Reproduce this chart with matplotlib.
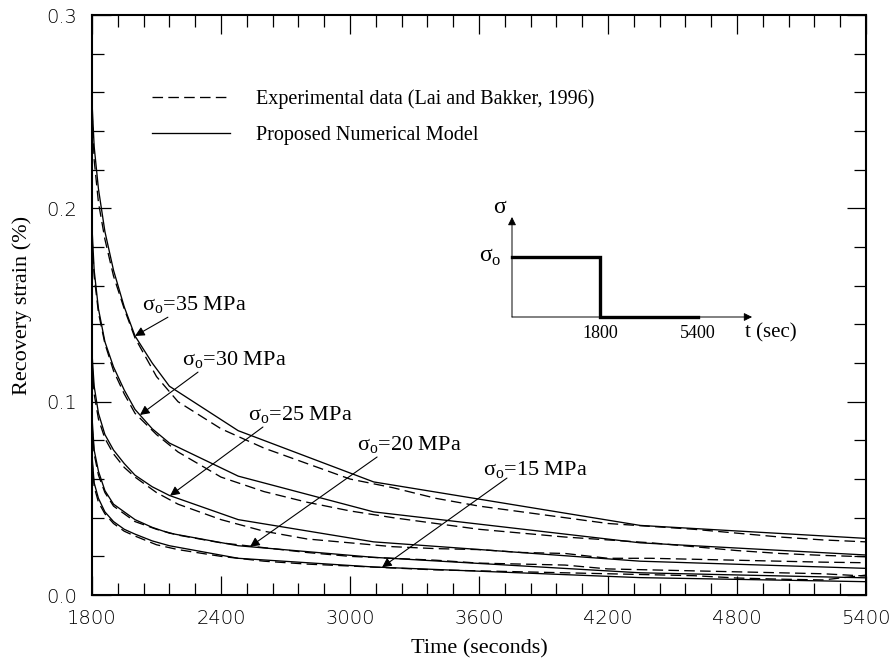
import matplotlib
matplotlib.use("Agg")
import matplotlib.pyplot as plt
from matplotlib.lines import Line2D
from matplotlib.ticker import MultipleLocator, FormatStrFormatter
import numpy as np

plt.rcParams["font.family"] = "Liberation Serif"
plt.rcParams["mathtext.fontset"] = "custom"
plt.rcParams["mathtext.rm"] = "Liberation Serif"

# model curves (solid), time in seconds, strain in %
tModel = [1800, 1810, 1830, 1860, 1900, 1950, 2000, 2080, 2160, 2480, 3110, 4350, 5400]
model35 = [0.255, 0.232, 0.210, 0.188, 0.168, 0.149, 0.134, 0.120, 0.108, 0.085, 0.0585, 0.036, 0.0293]
model30 = [0.190, 0.168, 0.148, 0.131, 0.118, 0.106, 0.096, 0.086, 0.0786, 0.0615, 0.043, 0.027, 0.0207]
model25 = [0.125, 0.108, 0.094, 0.083, 0.075, 0.068, 0.062, 0.056, 0.0515, 0.039, 0.0275, 0.0175, 0.0138]
model20 = [0.092, 0.075, 0.064, 0.054, 0.047, 0.043, 0.039, 0.035, 0.032, 0.0255, 0.0195, 0.0115, 0.0089]
model15 = [0.072, 0.058, 0.050, 0.043, 0.038, 0.034, 0.0315, 0.028, 0.0255, 0.019, 0.0145, 0.009, 0.0069]

# experimental curves (dashed)
tExp = [1800, 1810, 1830, 1860, 1900, 1950, 2000, 2100, 2200, 2400, 2600, 2800, 3000,
        3200, 3400, 3600, 3800, 4000, 4200, 4400, 4600, 4800, 5000, 5200, 5400]
exp35 = [0.250, 0.225, 0.203, 0.184, 0.165, 0.148, 0.133, 0.113, 0.100, 0.086, 0.076, 0.068, 0.060,
         0.0555, 0.050, 0.046, 0.043, 0.040, 0.037, 0.0355, 0.034, 0.032, 0.030, 0.0285, 0.0275]
exp30 = [0.185, 0.165, 0.146, 0.130, 0.116, 0.104, 0.094, 0.083, 0.074, 0.061, 0.0535, 0.048, 0.0435,
         0.040, 0.037, 0.034, 0.032, 0.030, 0.0285, 0.027, 0.025, 0.023, 0.0215, 0.0205, 0.0198]
exp25 = [0.120, 0.104, 0.091, 0.081, 0.073, 0.066, 0.061, 0.053, 0.047, 0.039, 0.033, 0.029, 0.027,
         0.025, 0.024, 0.0235, 0.022, 0.0215, 0.019, 0.019, 0.0185, 0.018, 0.0175, 0.017, 0.0167]
exp20 = [0.088, 0.073, 0.062, 0.053, 0.046, 0.042, 0.038, 0.034, 0.031, 0.027, 0.0245, 0.022, 0.020,
         0.019, 0.018, 0.0165, 0.016, 0.0155, 0.0135, 0.013, 0.0125, 0.012, 0.0115, 0.011, 0.0098]
exp15 = [0.070, 0.056, 0.048, 0.042, 0.037, 0.033, 0.0305, 0.026, 0.0235, 0.020, 0.0175, 0.016, 0.015,
         0.014, 0.013, 0.0125, 0.012, 0.0115, 0.011, 0.0105, 0.010, 0.0088, 0.0082, 0.0078, 0.0103]

modelList = [model35, model30, model25, model20, model15]
expList = [exp35, exp30, exp25, exp20, exp15]

# curve labels: stress, time where the arrow hits the model curve
stressList = [35, 30, 25, 20, 15]
arrowTimes = [2000, 2023, 2163, 2535, 3149]
labelPos = [(2033, 0.1500), (2219, 0.1215), (2526, 0.0931), (3033, 0.0776), (3619, 0.0646)]
tailPos = [(2153, 0.1437), (2293, 0.1153), (2595, 0.0869), (3126, 0.0714), (3730, 0.0605)]

# loading history inset (schematic)
stepPos = [0, 1, 1, 2.11]
stepLevel = [1, 1, 0, 0]
stepTickPos = [1, 2.11]
stepTickLabels = ["1800", "5400"]

lw = 0.95
dash = (8, 4)

fig = plt.figure(figsize=(8.95, 6.67), dpi=100)
ax = fig.add_axes([0.1028, 0.1079, 0.8648, 0.8696])

for m in modelList:
  ax.plot(tModel, m, color="k", lw=lw)
for e in expList:
  ax.plot(tExp, e, color="k", lw=lw, dashes=dash)

for s, t, lp, tp, m in zip(stressList, arrowTimes, labelPos, tailPos, modelList):
  tip = (t, np.interp(t, tModel, m))
  ax.annotate("", xy=tip, xytext=tp,
              arrowprops=dict(arrowstyle="-|>", lw=0.8, color="k",
                              mutation_scale=14, shrinkA=0, shrinkB=0))
  ax.text(lp[0], lp[1], "σ$_{\\mathrm{o}}$=%d MPa" % s, fontsize=16, ha="left", va="center")

handles = [
  Line2D([], [], color="k", lw=lw, dashes=dash),
  Line2D([], [], color="k", lw=lw),
]
ax.legend(handles, ["Experimental data (Lai and Bakker, 1996)", "Proposed Numerical Model"],
          loc="upper left", bbox_to_anchor=(0.077, 0.872), frameon=False, fontsize=14.5,
          handlelength=3.9, handletextpad=1.3, labelspacing=0.85, borderpad=0, borderaxespad=0)

ax.set_xlim(1800, 5400)
ax.set_ylim(0.0, 0.3)
ax.xaxis.set_major_locator(MultipleLocator(600))
ax.xaxis.set_minor_locator(MultipleLocator(120))
ax.yaxis.set_major_locator(MultipleLocator(0.1))
ax.yaxis.set_minor_locator(MultipleLocator(0.02))
ax.yaxis.set_major_formatter(FormatStrFormatter("%.1f"))
ax.tick_params(which="both", direction="in", top=True, right=True, width=0.9)
ax.tick_params(which="major", length=14)
ax.tick_params(which="minor", length=8.5)
ax.tick_params(axis="x", which="major", pad=10)
ax.tick_params(axis="y", which="major", pad=11)
for lab in ax.get_xticklabels() + ax.get_yticklabels():
  lab.set_fontfamily("DejaVu Sans")
  lab.set_fontweight("light")
  lab.set_fontsize(14)
for sp in ax.spines.values():
  sp.set_linewidth(1.5)

ax.set_xlabel("Time (seconds)", fontsize=16, labelpad=8)
ax.set_ylabel("Recovery strain (%)", fontsize=16, labelpad=10)

# inset: stress history
ins = fig.add_axes([512 / 895, 1 - 317 / 667, 248 / 895, 112 / 667])
ins.set_xlim(0, 2.82)
ins.set_ylim(0, 1.87)
ins.axis("off")
ins.plot(stepPos, stepLevel, color="k", lw=2.4, solid_joinstyle="miter", clip_on=False)
arrowKw = dict(arrowstyle="-|>", lw=0.7, color="k", mutation_scale=12, shrinkA=0, shrinkB=0)
ins.annotate("", xy=(2.73, 0), xytext=(0, 0), arrowprops=arrowKw)
ins.annotate("", xy=(0, 1.67), xytext=(0, 0), arrowprops=arrowKw)
for p, lab in zip(stepTickPos, stepTickLabels):
  ins.text(p, -0.27, lab, fontsize=13, ha="center", va="center")
ins.text(2.94, -0.27, "t (sec)", fontsize=15, ha="center", va="center", clip_on=False)
ins.text(-0.14, 1.82, "σ", fontsize=17, ha="center", va="center")
ins.text(-0.25, 1.0, "σ$_{\\mathrm{o}}$", fontsize=17, ha="center", va="center")

fig.savefig("out.png", dpi=100)
